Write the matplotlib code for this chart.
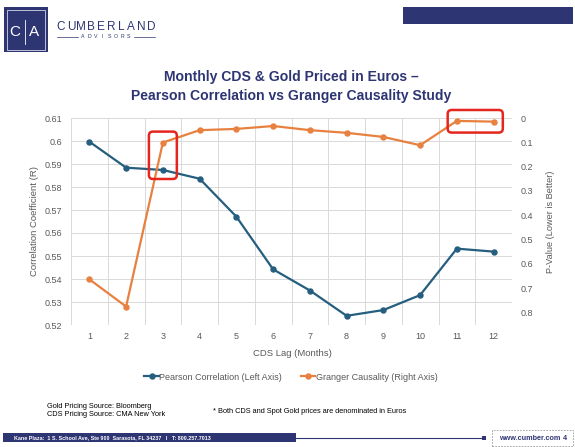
"""Monthly CDS & Gold priced in Euros: Pearson correlation vs Granger causality by lag."""
import matplotlib
matplotlib.use("Agg")
import matplotlib.pyplot as plt
import numpy as np
from matplotlib.patches import FancyBboxPatch, Rectangle

# ---- data -----------------------------------------------------------------
lags = [1, 2, 3, 4, 5, 6, 7, 8, 9, 10, 11, 12]
pearson_r = [0.5997, 0.5884, 0.5874, 0.5836, 0.5671, 0.5442,
             0.5350, 0.5240, 0.5265, 0.5330, 0.5532, 0.5519]
granger_p = [0.664, 0.776, 0.101, 0.050, 0.045, 0.033,
             0.050, 0.061, 0.078, 0.112, 0.012, 0.015]
left_ticks = [0.52, 0.53, 0.54, 0.55, 0.56, 0.57, 0.58, 0.59, 0.60, 0.61]
right_ticks = [0.0, 0.1, 0.2, 0.3, 0.4, 0.5, 0.6, 0.7, 0.8]
# highlighted regions: (first lag, last lag)
highlights = [(3, 3), (11, 12)]

NAVY = "#2E3573"
BLUE = "#255E7E"
ORANGE = "#E8803F"
RED = "#E5261E"
GREY = "#595959"
GRID = "#D9D9D9"
SANS = ["Liberation Sans", "DejaVu Sans"]
NARROW = ["Liberation Sans Narrow", "Liberation Sans", "DejaVu Sans"]

W, H = 575, 447
fig = plt.figure(figsize=(W / 100, H / 100), dpi=100)


def fx(px):
    return px / W


def fy(py):
    return 1 - py / H


# ---- chart -----------------------------------------------------------------
ax = fig.add_axes([fx(71), fy(325), fx(512) - fx(71), fy(118) - fy(325)])
ax2 = ax.twinx()

ax.plot(lags, pearson_r, "o-", color=BLUE, lw=1.6, ms=3.6,
        label="Pearson Correlation (Left Axis)", zorder=3)
ax2.plot(lags, granger_p, "o-", color=ORANGE, lw=1.6, ms=3.6,
         label="Granger Causality (Right Axis)", zorder=3)

ax.set_xlim(0.5, 12.5)
ax.set_ylim(0.52, 0.61)
ax2.set_ylim(0.852, 0.0)

ax.set_xticks(lags)
ax.set_xticks(np.arange(0.5, 13, 1), minor=True)
ax.set_yticks(left_ticks)
ax.set_yticklabels([f"{v:g}" for v in left_ticks])
ax2.set_yticks(right_ticks)
ax2.set_yticklabels([f"{v:g}" for v in right_ticks])

ax.grid(True, which="minor", axis="x", color=GRID, lw=0.7)
ax.grid(True, which="major", axis="y", color=GRID, lw=0.7)
ax.set_axisbelow(True)
for a in (ax, ax2):
    for s in a.spines.values():
        s.set_visible(False)
ax.tick_params(which="both", length=0)
ax2.tick_params(length=0)
ax.tick_params(axis="y", pad=6.5, labelsize=6.5, labelcolor=GREY)
ax.tick_params(axis="x", pad=5, labelsize=6.5, labelcolor=GREY)
ax2.tick_params(axis="y", pad=6, labelsize=6.5, labelcolor=GREY)
for lab in ax.get_xticklabels() + ax.get_yticklabels() + ax2.get_yticklabels():
    lab.set_family(SANS)

ax.set_ylabel("Correlation Coefficient (R)", fontsize=6.8, color=GREY, family=SANS)
ax.yaxis.set_label_coords((39 - 71) / 441, 0.5)
ax2.set_ylabel("P-Value (Lower is Better)", fontsize=6.6, color=GREY, family=SANS,
               rotation=90)
ax2.yaxis.set_label_coords((546 - 71) / 441, 0.5)
fig.text(fx(292), fy(353), "CDS Lag (Months)", fontsize=6.8, color=GREY,
         family=SANS, ha="center", va="center")

h1, l1 = ax.get_legend_handles_labels()
h2, l2 = ax2.get_legend_handles_labels()
fig.legend(h1 + h2, l1 + l2, loc="center", bbox_to_anchor=(fx(291), fy(377)),
           ncol=2, frameon=False, handlelength=1.6, handletextpad=0.05,
           columnspacing=2.1, prop={"family": SANS, "size": 6.5},
           labelcolor=GREY)

# red highlight boxes around the notable Granger lags
to_fig = ax2.transData + fig.transFigure.inverted()
for first, last in highlights:
    i0, i1 = lags.index(first), lags.index(last)
    seg = granger_p[i0:i1 + 1]
    single = first == last
    xpad = 0.38 if single else 0.25
    top = min(seg) - 0.045
    bottom = max(seg) + (0.15 if single else 0.045)
    (x0, y0), (x1, y1) = to_fig.transform([(first - xpad, bottom),
                                           (last + xpad, top)])
    fig.patches.append(FancyBboxPatch(
        (x0, y0), x1 - x0, y1 - y0, transform=fig.transFigure,
        boxstyle=f"round,pad=0,rounding_size={4 / W}",
        mutation_aspect=W / H, fill=False, ec=RED, lw=1.8, zorder=5))

# ---- header ----------------------------------------------------------------
fig.patches.append(Rectangle((fx(4), fy(52)), fx(44), fy(7) - fy(52),
                             transform=fig.transFigure, fc=NAVY, ec="none"))
fig.patches.append(Rectangle((fx(7), fy(49.5)), fx(38), fy(10) - fy(49.5),
                             transform=fig.transFigure, fc="none", ec="white",
                             lw=0.6, alpha=0.8))
fig.text(fx(15), fy(32), "C", color="white", fontsize=11, family=SANS,
         ha="center", va="center")
fig.text(fx(34), fy(32), "A", color="white", fontsize=11, family=SANS,
         ha="center", va="center")
fig.lines.append(plt.Line2D([fx(25), fx(25)], [fy(20), fy(44)],
                            transform=fig.transFigure, color="white", lw=0.6))

for ch, x in zip("CUMBERLAND", np.linspace(61, 151, 10)):
    fig.text(fx(x), fy(27), ch, color=NAVY, fontsize=8.5, family=SANS,
             ha="center", va="center")
for ch, x in zip("ADVISORS", np.linspace(83, 129, 8)):
    fig.text(fx(x), fy(36.5), ch, color=NAVY, fontsize=3.8, family=SANS,
             ha="center", va="center")
for xa, xb in [(57, 78), (134, 155)]:
    fig.lines.append(plt.Line2D([fx(xa), fx(xb)], [fy(36.5), fy(36.5)],
                                transform=fig.transFigure, color=NAVY, lw=0.5))

fig.patches.append(Rectangle((fx(403), fy(24)), fx(573) - fx(403), fy(7) - fy(24),
                             transform=fig.transFigure, fc=NAVY, ec="none"))

fig.text(fx(291), fy(77), "Monthly CDS & Gold Priced in Euros \u2013",
         color=NAVY, fontsize=10.1, fontweight="bold", family=NARROW,
         ha="center", va="center")
fig.text(fx(291), fy(96), "Pearson Correlation vs Granger Causality Study",
         color=NAVY, fontsize=10.1, fontweight="bold", family=NARROW,
         ha="center", va="center")

# ---- footnotes and footer --------------------------------------------------
fig.text(fx(47), fy(406.5), "Gold Pricing Source: Bloomberg", fontsize=5.3,
         family=SANS, va="center")
fig.text(fx(47), fy(415), "CDS Pricing Source: CMA New York", fontsize=5.3,
         family=SANS, va="center")
fig.text(fx(213), fy(411.5),
         "* Both CDS and Spot Gold prices are denominated in Euros",
         fontsize=5.35, family=SANS, va="center")

fig.patches.append(Rectangle((fx(3), fy(442)), fx(296) - fx(3), fy(433) - fy(442),
                             transform=fig.transFigure, fc=NAVY, ec="none"))
fig.text(fx(14), fy(437.5),
         "Kane Plaza:  1 S. School Ave, Ste 900  Sarasota, FL 34237   I   T: 800.257.7013",
         color="white", fontsize=3.9, fontweight="bold", family=NARROW,
         va="center")
fig.lines.append(plt.Line2D([fx(296), fx(484)], [fy(437.8), fy(437.8)],
                            transform=fig.transFigure, color=NAVY, lw=0.8))
fig.patches.append(Rectangle((fx(482), fy(439.5)), fx(4), fy(436) - fy(439.5),
                             transform=fig.transFigure, fc=NAVY, ec="none"))
fig.patches.append(Rectangle((fx(492), fy(446)), fx(573) - fx(492), fy(430) - fy(446),
                             transform=fig.transFigure, fc="white", ec="#9A9A9A",
                             lw=0.6, ls=(0, (2, 1.5))))
fig.text(fx(499), fy(438), "www.cumber.com", color=NAVY, fontsize=5.2,
         fontweight="bold", family=SANS, va="center")
fig.text(fx(563), fy(438), "4", color=NAVY, fontsize=5.2,
         fontweight="bold", family=SANS, va="center")

fig.savefig("out.png", dpi=100)
